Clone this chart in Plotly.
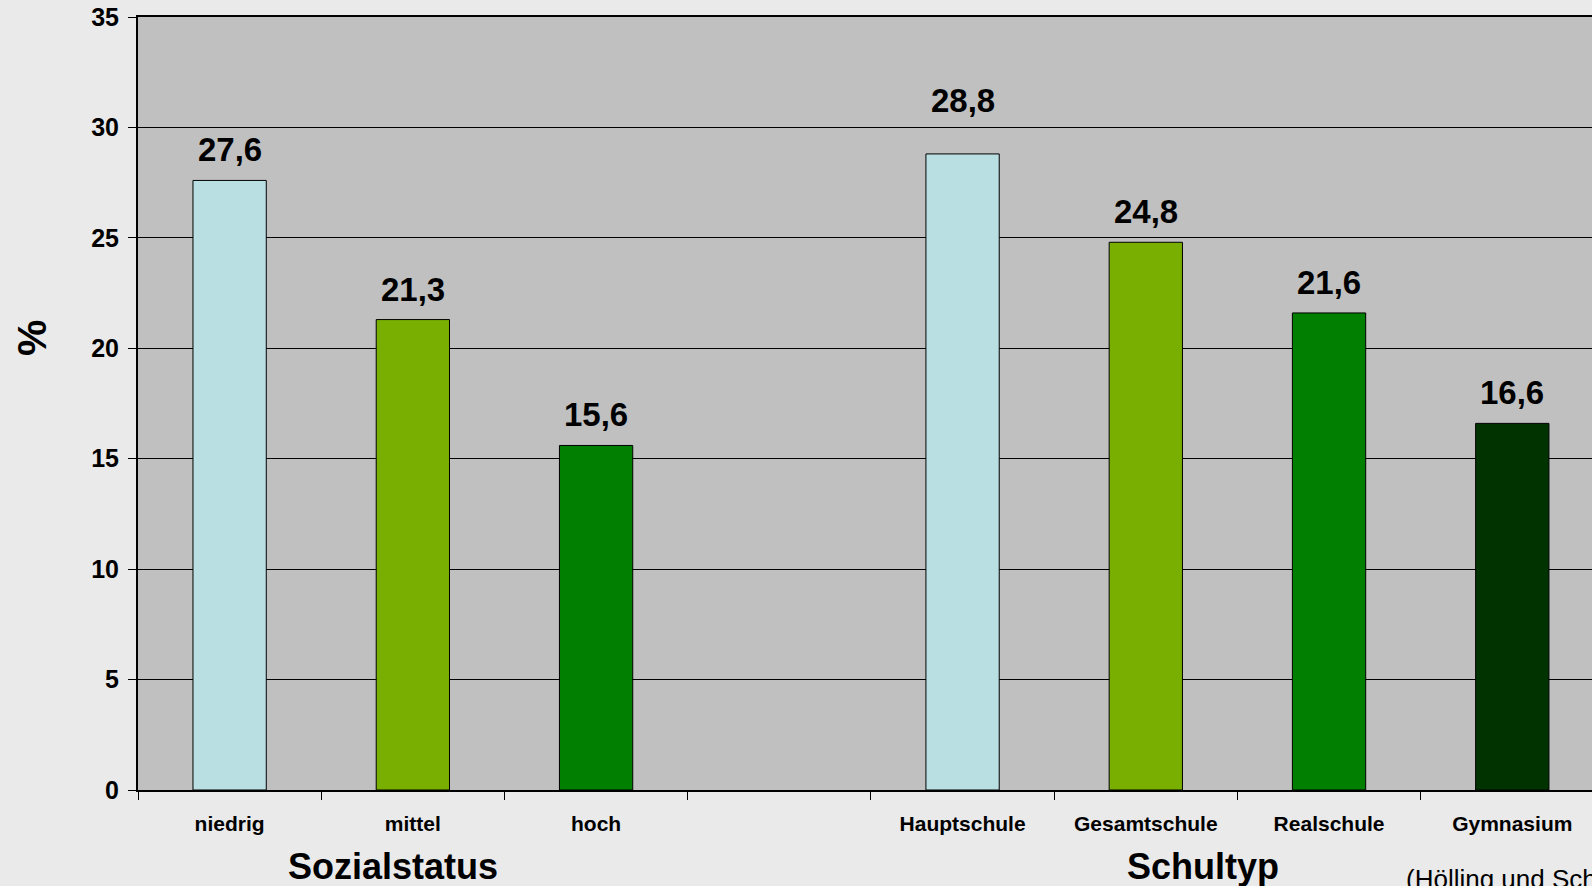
import plotly.graph_objects as go

# Share of children/adolescents (%) by social status and school type
categories = ["niedrig", "mittel", "hoch", " ", "Hauptschule", "Gesamtschule", "Realschule", "Gymnasium"]
values = [27.6, 21.3, 15.6, None, 28.8, 24.8, 21.6, 16.6]
colors = ["#B9DFE2", "#79AF00", "#007F00", "#C0C0C0", "#B9DFE2", "#79AF00", "#007F00", "#003300"]

group_titles = ["Sozialstatus", "Schultyp"]
source_note = "(Hölling und Schlack 2007)"
y_ticks = [0, 5, 10, 15, 20, 25, 30, 35]

FONT = "Arial, Liberation Sans, sans-serif"

L, R, T, B = 138, 0, 17, 96
W, H = 1592, 886
pw, ph = W - L - R, H - T - B

# the Hauptschule label sits a little higher above its bar
extra_label_lift = {"Hauptschule": 23}


def px_x(x):
    return (x - L) / pw


def px_y(y):
    return (H - y - B) / ph


fig = go.Figure()
fig.add_trace(go.Bar(
    x=categories,
    y=values,
    width=0.4,
    marker=dict(color=colors, line=dict(color="#000000", width=1)),
    hoverinfo="skip",
))

# value labels above each bar
for cat, v in zip(categories, values):
    if v is None:
        continue
    fig.add_annotation(
        x=cat, y=v, xref="x", yref="y",
        text=f"<b>{v:.1f}</b>".replace(".", ","),
        showarrow=False, yanchor="bottom", yshift=10 + extra_label_lift.get(cat, 0),
        font=dict(family=FONT, size=33, color="#000000"),
    )

# group titles under the category labels
fig.add_annotation(x=px_x(393), y=px_y(866), xref="paper", yref="paper",
                   xanchor="center", yanchor="middle", text=f"<b>{group_titles[0]}</b>",
                   showarrow=False, font=dict(family=FONT, size=36, color="#000000"))
fig.add_annotation(x=px_x(1203), y=px_y(866), xref="paper", yref="paper",
                   xanchor="center", yanchor="middle", text=f"<b>{group_titles[1]}</b>",
                   showarrow=False, font=dict(family=FONT, size=36, color="#000000"))
fig.add_annotation(x=px_x(1404), y=px_y(879), xref="paper", yref="paper",
                   xanchor="left", yanchor="middle", text=source_note,
                   showarrow=False, font=dict(family=FONT, size=26, color="#000000"))

# y-axis title
fig.add_annotation(x=px_x(32), y=px_y(338), xref="paper", yref="paper",
                   xanchor="center", yanchor="middle", text="<b>%</b>", textangle=-90,
                   showarrow=False, font=dict(family=FONT, size=41, color="#000000"))

fig.update_layout(
    width=W, height=H,
    margin=dict(l=L, r=R, t=T, b=B, pad=0),
    paper_bgcolor="#EAEAEA",
    plot_bgcolor="#C0C0C0",
    showlegend=False,
    bargap=0.6,
    font=dict(family=FONT, color="#000000"),
    xaxis=dict(
        type="category",
        range=[-0.5, 7.435],
        tickson="boundaries",
        ticks="outside", ticklen=8, tickcolor="#000000", tickwidth=1,
        showline=True, linecolor="#000000", linewidth=1.5, mirror=True,
        showgrid=False,
        tickfont=dict(family=FONT, size=21, color="#000000", weight="bold"),
        ticklabelstandoff=14,
    ),
    yaxis=dict(
        range=[0, 35],
        tickvals=y_ticks,
        ticks="outside", ticklen=8, tickcolor="#000000", tickwidth=1,
        showline=True, linecolor="#000000", linewidth=2,
        showgrid=True, gridcolor="#000000", gridwidth=1,
        zeroline=False,
        tickfont=dict(family=FONT, size=25, color="#000000", weight="bold"),
        ticklabelstandoff=4,
    ),
)

fig.write_html("out.html")
